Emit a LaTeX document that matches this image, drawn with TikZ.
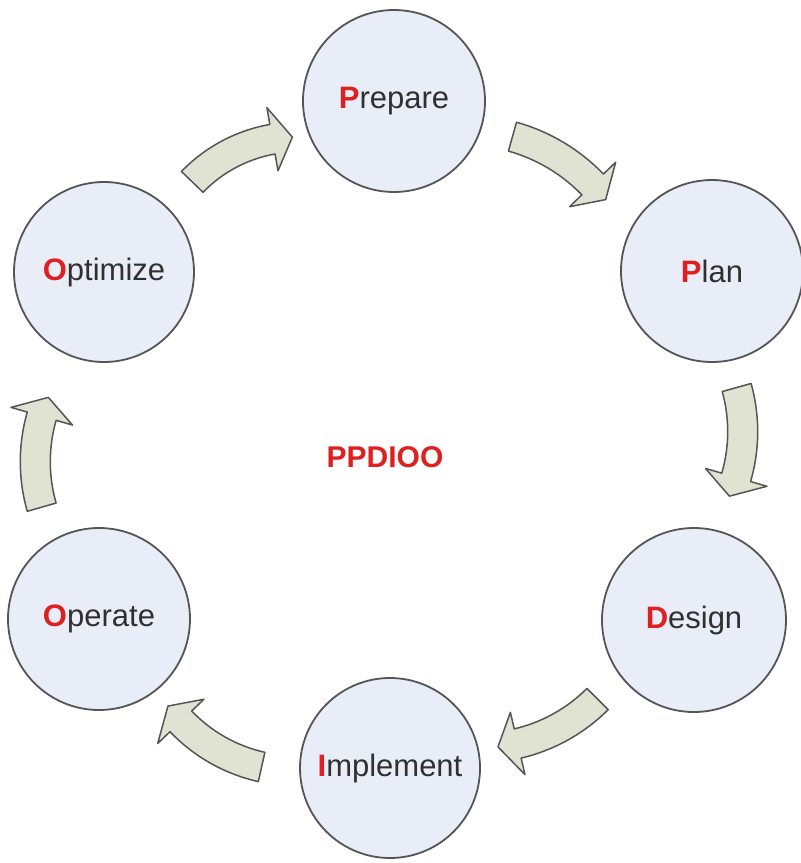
\documentclass[tikz,border=0pt]{standalone}
\usepackage{fontspec}
\setmainfont{Liberation Sans}
\usetikzlibrary{calc}
\definecolor{circfill}{RGB}{232,237,247}
\definecolor{edgegray}{RGB}{85,85,85}
\definecolor{arrfill}{RGB}{224,227,210}
\definecolor{txtgray}{RGB}{48,48,48}
\definecolor{initred}{RGB}{222,32,32}
\newcommand{\initial}[1]{{\bfseries\color{initred}#1}}
\newcommand{\blockarc}[5]{%
  \pgfmathsetmacro{\rin}{#3-15}%
  \pgfmathsetmacro{\rout}{#3+15}%
  \pgfmathsetmacro{\hin}{#3-32}%
  \pgfmathsetmacro{\hout}{#3+32}%
  \pgfmathsetmacro{\atip}{#5+20/#3*57.2958}%
  \draw[blockarrow] ($(#1,#2)+(#4:\rout)$) arc[start angle=#4, end angle=#5, radius=\rout]
    -- ($(#1,#2)+(#5:\hout)$) -- ($(#1,#2)+(\atip:#3)$) -- ($(#1,#2)+(#5:\hin)$)
    -- ($(#1,#2)+(#5:\rin)$) arc[start angle=#5, end angle=#4, radius=\rin] -- cycle;}
\begin{document}
\begin{tikzpicture}[x=1pt,y=-1pt,
  phase/.style={circle, draw=edgegray, line width=1.8pt, fill=circfill, inner sep=0pt,
    minimum size=182pt, text=txtgray, font=\fontsize{31}{36}\selectfont},
  blockarrow/.style={draw=edgegray, line width=1.5pt, fill=arrfill, line join=round}]
\useasboundingbox (0,0) rectangle (801,863);
\node[phase] (prep) at (394,101) {\initial{P}repare};
\node[phase] (plan) at (712,271) {\initial{P}lan};
\node[phase, minimum size=184pt] (des) at (694,620) {\initial{D}esign};
\node[phase, minimum size=180pt] (impl) at (390,768) {\initial{I}mplement};
\node[phase] (oper) at (99,619) {\initial{O}perate};
\node[phase, minimum size=180pt] (opt) at (104,272) {\initial{O}ptimize};
\node[text=initred, font=\bfseries\fontsize{30}{36}\selectfont] (title) at (385,457) {PPDIOO};
\blockarc{298}{284}{147}{-136}{-100}
\blockarc{464.6}{308.1}{178}{-74.4}{-44}
\blockarc{578.7}{431.6}{164}{-15.6}{16.2}
\blockarc{479.6}{581.1}{166.8}{45}{76.8}
\blockarc{296.5}{610.8}{160}{102.6}{136.3}
\blockarc{200.3}{461.7}{165}{164}{196}
\end{tikzpicture}
\end{document}
